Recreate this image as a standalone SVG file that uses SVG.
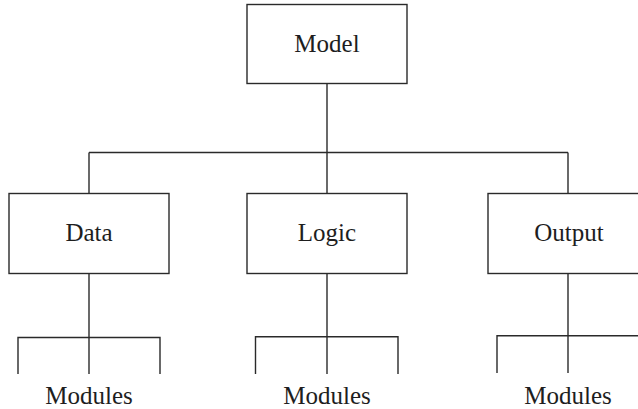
<svg xmlns="http://www.w3.org/2000/svg" width="638" height="409" viewBox="0 0 638 409">
  <style>
    .box { fill: #ffffff; stroke: #2a2a2a; stroke-width: 1.4; }
    .lbl { font-family: "Liberation Serif", "Times New Roman", serif; font-size: 25px; fill: #1e1e1e; text-anchor: middle; }
    .conn { fill: none; stroke: #2a2a2a; stroke-width: 1.4; }
  </style>
  <rect width="638" height="409" fill="#ffffff"/>
  <g id="connectors">
    <path class="conn" d="M327 83.5 V193.5"/>
    <path class="conn" d="M89 152.5 H568"/>
    <path class="conn" d="M89 152.5 V193.5"/>
    <path class="conn" d="M568 152.5 V193.5"/>
    <path class="conn" d="M89 273.5 V374"/>
    <path class="conn" d="M18 374 V337.5 H160 V374"/>
    <path class="conn" d="M327 273.5 V374"/>
    <path class="conn" d="M255.5 374 V336.7 H398 V374"/>
    <path class="conn" d="M568 273.5 V373"/>
    <path class="conn" d="M497 373 V335.7 H640"/>
  </g>
  <g id="model">
    <rect class="box" x="247" y="4.5" width="160" height="79"/>
    <text class="lbl" x="327" y="51.5">Model</text>
  </g>
  <g id="data">
    <rect class="box" x="9" y="193.5" width="160" height="80"/>
    <text class="lbl" x="89" y="241">Data</text>
  </g>
  <g id="logic">
    <rect class="box" x="247" y="193.5" width="160" height="80"/>
    <text class="lbl" x="327" y="241">Logic</text>
  </g>
  <g id="output">
    <rect class="box" x="488" y="193.5" width="160" height="80"/>
    <text class="lbl" x="569" y="241">Output</text>
  </g>
  <g id="modules-data">
    <text class="lbl" x="89" y="404">Modules</text>
  </g>
  <g id="modules-logic">
    <text class="lbl" x="327" y="404">Modules</text>
  </g>
  <g id="modules-output">
    <text class="lbl" x="568" y="404">Modules</text>
  </g>
</svg>
